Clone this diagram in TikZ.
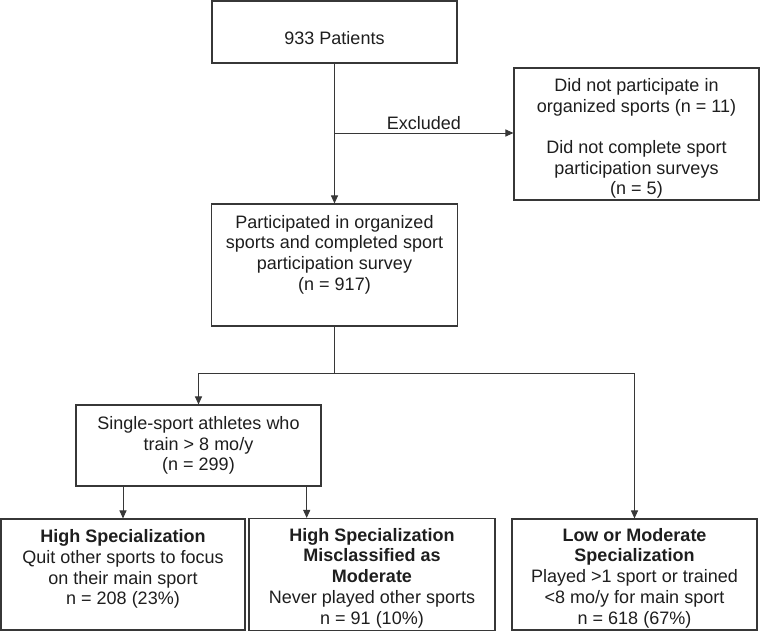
\documentclass[tikz,border=0pt]{standalone}
\usepackage{fontspec}
\setmainfont{Liberation Sans}
\usetikzlibrary{arrows.meta}
\definecolor{linec}{RGB}{55,55,55}
\definecolor{textc}{RGB}{30,30,30}
\begin{document}
\begin{tikzpicture}[x=1pt,y=-1pt,
  box/.style={draw=linec, line width=1.1pt, fill=white, inner sep=0pt},
  txt/.style={align=center, text=textc, inner sep=0pt, font=\fontsize{18}{20.7}\selectfont},
  conn/.style={draw=linec, line width=1pt},
  arr/.style={conn, -{Triangle[length=8pt,width=7pt]}}]
\useasboundingbox (0,0) rectangle (760,632);
% boxes
\node[box, minimum width=245pt, minimum height=62pt] (pat) at (334.5,32) {};
\node[box, minimum width=245pt, minimum height=132pt] (exc) at (636.5,134) {};
\node[box, minimum width=246pt, minimum height=122pt] (inc) at (334.5,265) {};
\node[box, minimum width=245pt, minimum height=81pt] (sing) at (198.5,445.5) {};
\node[box, minimum width=244pt, minimum height=111pt] (hi) at (123,574.5) {};
\node[box, minimum width=246pt, minimum height=112pt] (mis) at (372,574.5) {};
\node[box, minimum width=245pt, minimum height=111pt] (low) at (634.5,574.5) {};
% texts
\node[txt] (tpat) at (334.5,38) {933 Patients};
\node[txt] (texc) at (636.5,138.5) {Did not participate in\\organized sports (n = 11)\\[20.7pt]Did not complete sport\\participation surveys\\(n = 5)};
\node[txt] (tinc) at (334.5,254.5) {Participated in organized\\sports and completed sport\\participation survey\\(n = 917)};
\node[txt] (tsing) at (198.5,445.5) {Single-sport athletes who\\train > 8 mo/y\\(n = 299)};
\node[txt] (thi) at (123,569) {\textbf{High Specialization}\\Quit other sports to focus\\on their main sport\\n = 208 (23\%)};
\node[txt] (tmis) at (372,578) {\textbf{High Specialization}\\\textbf{Misclassified as}\\\textbf{Moderate}\\Never played other sports\\n = 91 (10\%)};
\node[txt] (tlow) at (634.5,578) {\textbf{Low or Moderate}\\\textbf{Specialization}\\Played >1 sport or trained\\<8 mo/y for main sport\\n = 618 (67\%)};
% connectors
\coordinate (j1) at (334.5,133);
\coordinate (j2) at (334.5,373);
\coordinate (a5) at (306.7,0);
\draw[arr] (pat.south) -- (inc.north);
\draw[arr] (j1) -- (j1 -| exc.west) node[pos=0.5, above=3pt, txt] (lexc) {Excluded};
\draw[conn] (inc.south) -- (j2);
\draw[arr] (j2) -| (sing.north);
\draw[arr] (j2) -| (low.north);
\draw[arr] (sing.south -| hi.north) -- (hi.north);
\draw[arr] (sing.south -| a5) -- (mis.north -| a5);
\end{tikzpicture}
\end{document}
